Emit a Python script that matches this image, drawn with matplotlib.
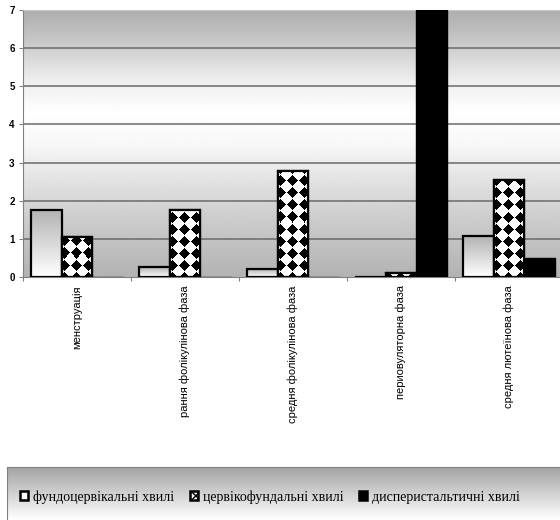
import numpy as np
import matplotlib.pyplot as plt
from matplotlib.patches import Patch, Rectangle

phases = ['менструація', 'рання фолікулінова фаза', 'средня фолікулінова фаза',
          'периовуляторна фаза', 'средня лютеїнова фаза']
series_names = ['фундоцервікальні хвилі', 'цервікофундальні хвилі', 'дисперистальтичні хвилі']
fundo_cervical = [1.75, 0.25, 0.2, 0.0, 1.07]
cervico_fundal = [1.05, 1.75, 2.78, 0.1, 2.55]
dysperistaltic = [0.0, 0.0, 0.0, 7.0, 0.5]

W, H = 560, 520
fig = plt.figure(figsize=(W / 100, H / 100), dpi=100)
ax = fig.add_axes([23 / W, 1 - 277 / H, 540 / W, 267 / H])

x = np.arange(len(phases))
bw = 0.287

# plot area background: grey at top and bottom, white band in the middle
yy = np.linspace(0, 7, 300)
shade = np.interp(yy, [0, 1.5, 3.5, 4.3, 5.2, 6.2, 7], [0.70, 0.80, 0.97, 1.0, 0.93, 0.78, 0.68])
ax.imshow(np.repeat(shade[::-1, None], 2, axis=1), cmap='gray', vmin=0, vmax=1,
          extent=[0, 1, 0, 1], transform=ax.transAxes, aspect='auto', zorder=0)

for v in range(1, 7):
    ax.axhline(v, color='#6a6a6a', lw=1.1, zorder=1)

# series 1: grey-to-white gradient bars
b1 = ax.bar(x - bw, fundo_cervical, bw, facecolor='none', edgecolor='black', lw=1.6, zorder=4)
grad = np.linspace(0.70, 1.0, 100)[:, None]
for r in b1:
    if r.get_height() <= 0:
        continue
    im = ax.imshow(np.repeat(grad, 2, axis=1), cmap='gray', vmin=0, vmax=1, aspect='auto',
                   extent=[r.get_x(), r.get_x() + r.get_width(), 0, r.get_height()], zorder=3)
    im.set_clip_path(r)

# series 2: black diamonds on white
b2 = ax.bar(x, cervico_fundal, bw, facecolor='white', edgecolor='black', lw=1.6, zorder=4)
pw, ph = 540, 267
px, py = np.meshgrid(np.arange(pw), np.arange(ph))
p = 12.0
u = np.mod(px + 1, p) - p / 2
v = np.mod(py + 3, p) - p / 2
pattern = np.where(np.abs(u) + np.abs(v) < 0.42 * p, 0.0, 1.0)
for r in b2:
    im = ax.imshow(pattern, cmap='gray', vmin=0, vmax=1, extent=[0, 1, 0, 1],
                   transform=ax.transAxes, aspect='auto', interpolation='nearest', zorder=5)
    im.set_clip_path(r)
for r in b2:
    r2 = Rectangle((r.get_x(), 0), r.get_width(), r.get_height(), facecolor='none',
                   edgecolor='black', lw=1.6, zorder=6)
    ax.add_patch(r2)

# series 3: solid black
ax.bar(x + bw, dysperistaltic, bw, color='black', edgecolor='black', lw=1.0, zorder=4)

ax.set_xlim(-0.5, len(phases) - 0.5)
ax.set_ylim(0, 7)
ax.set_yticks(range(8))
ax.set_yticklabels([str(i) for i in range(8)], fontsize=7, fontweight='bold',
                   family='Liberation Sans')
ax.tick_params(axis='y', length=3, width=0.8, color='#808080', pad=3)
ax.set_xticks(x)
ax.set_xticklabels(phases, rotation=90, va='top', ha='center', fontsize=8,
                   family='Liberation Sans')
ax.set_xticks(np.arange(-0.5, len(phases), 1), minor=True)
ax.tick_params(axis='x', which='major', length=0, pad=6)
ax.tick_params(axis='x', which='minor', length=3, width=0.8, color='#808080')
ax.spines['left'].set_color('#808080')
ax.spines['bottom'].set_color('#808080')
ax.spines['top'].set_color('#c8c8c8')
ax.spines['right'].set_visible(False)

# legend box with vertical gradient
lax = fig.add_axes([7 / W, 0, 1, (H - 467) / H])
lgrad = np.linspace(0.64, 1.0, 100)[:, None]
lax.imshow(np.repeat(lgrad, 2, axis=1), cmap='gray', vmin=0, vmax=1,
           extent=[0, 1, 0, 1], aspect='auto')
lax.set_xlim(0, 1)
lax.set_ylim(0, 1)
lax.set_xticks([])
lax.set_yticks([])
for s in ['bottom', 'right']:
    lax.spines[s].set_visible(False)
lax.spines['top'].set_color('#808080')
lax.spines['left'].set_color('#808080')

handles = [Patch(facecolor='white', edgecolor='black', lw=1.8),
           Patch(facecolor='white', edgecolor='black', lw=1.8, hatch='xxxx'),
           Patch(facecolor='black', edgecolor='black', lw=1.8)]
fig.legend(handles, series_names, loc='center left', bbox_to_anchor=(20 / W, 1 - 497 / H),
           ncol=3, frameon=False, handlelength=0.6, handleheight=0.6, handletextpad=0.35,
           columnspacing=1.1, borderpad=0, borderaxespad=0,
           prop={'family': 'Liberation Serif', 'size': 10})

fig.savefig('out.png', dpi=100)
